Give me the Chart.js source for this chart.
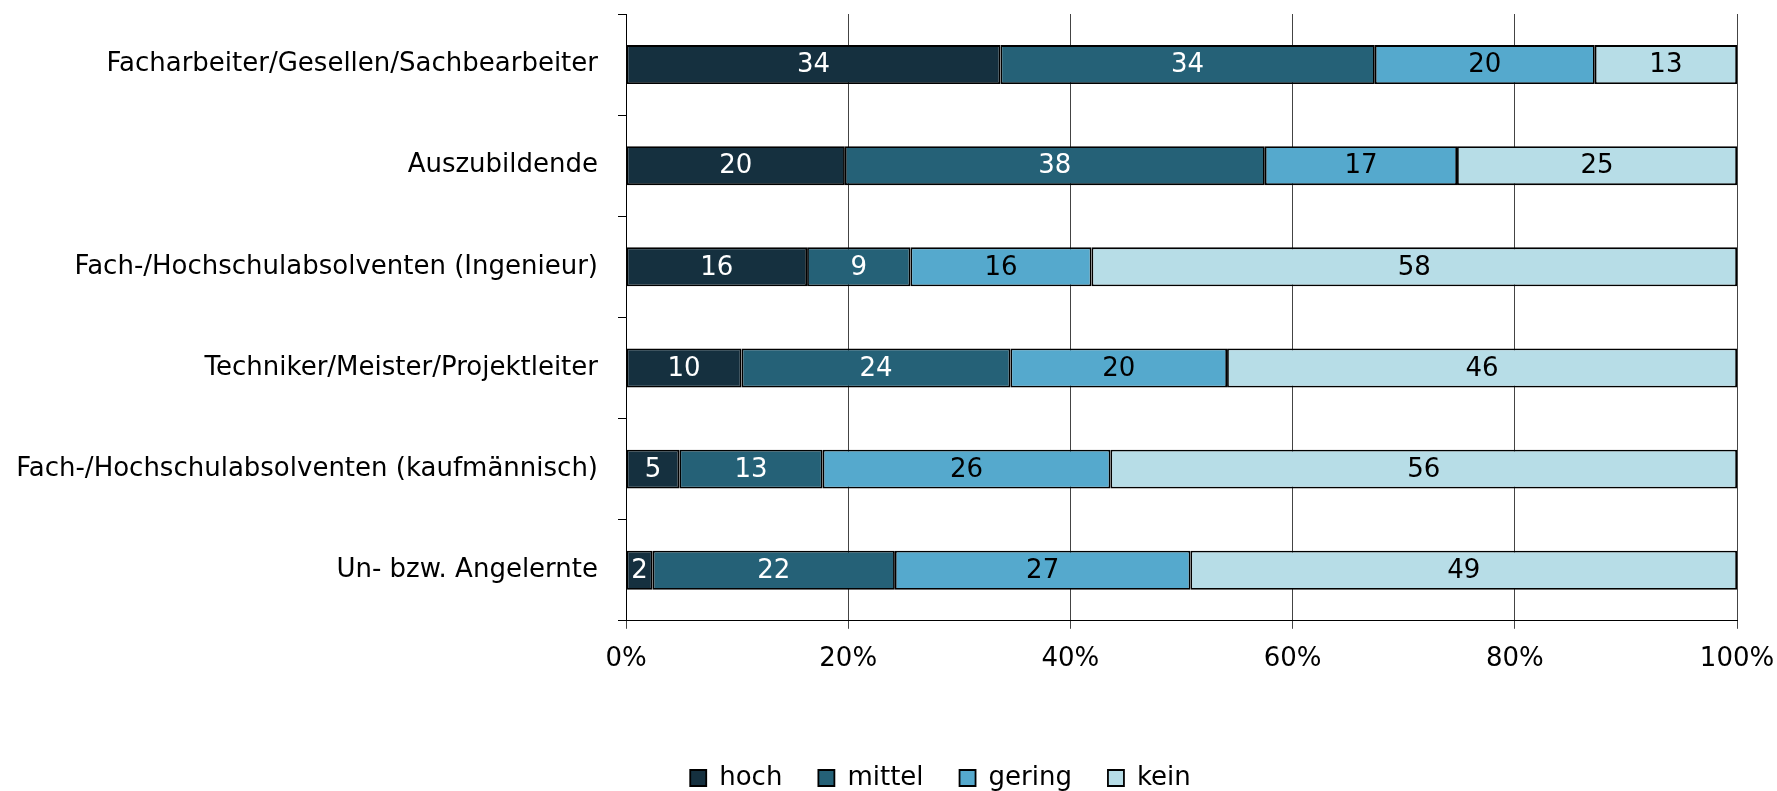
<!DOCTYPE html>
<html>
<head>
<meta charset="utf-8">
<script src="https://cdn.jsdelivr.net/npm/chart.js@4.4.1/dist/chart.umd.min.js"></script>
<style>
  html, body { margin: 0; padding: 0; background: #fff; }
  .box { width: 1777px; height: 791px; position: relative; }
</style>
</head>
<body>
<div class="box"><canvas id="Chart1"></canvas></div>
<script>

let Gruppen = [
    "Facharbeiter/Gesellen/Sachbearbeiter",
    "Auszubildende",
    "Fach-/Hochschulabsolventen (Ingenieur)",
    "Techniker/Meister/Projektleiter",
    "Fach-/Hochschulabsolventen (kaufmännisch)",
    "Un- bzw. Angelernte"
]
let Stufen = ["hoch", "mittel", "gering", "kein"]

// Anteile in % (Beschriftung = gerundet)
let hoch   = [33.7, 19.7, 16.3, 10.4, 4.8, 2.4]
let mittel = [33.7, 37.8, 9.3, 24.2, 12.9, 21.8]
let gering = [19.8, 17.3, 16.3, 19.5, 25.9, 26.6]
let kein   = [12.8, 25.2, 58.1, 45.9, 56.4, 49.2]

let xTicks = [0, 20, 40, 60, 80, 100]

let Farben = ["#15303f", "#256177", "#55a9cd", "#b7dde7"]
let TextFarben = ["#fff", "#fff", "#000", "#000"]

Chart.defaults.font.family = "'DejaVu Sans', sans-serif"
Chart.defaults.font.size = 26
Chart.defaults.color = "#000"

// Werte in die Balken schreiben
const wertePlugin = {
    id: "werte",
    afterDatasetsDraw(chart) {
        const ctx = chart.ctx
        ctx.save()
        ctx.font = "26px 'DejaVu Sans', sans-serif"
        ctx.textAlign = "center"
        ctx.textBaseline = "middle"
        chart.data.datasets.forEach((ds, i) => {
            const meta = chart.getDatasetMeta(i)
            meta.data.forEach((bar, j) => {
                const p = bar.getCenterPoint()
                ctx.fillStyle = TextFarben[i]
                ctx.fillText(Math.round(ds.data[j]), p.x, p.y + 1)
            })
        })
        ctx.restore()
    }
}

// Legende etwas nach rechts/unten schieben wie im Original
const legendeVerschieben = {
    id: "legendeVerschieben",
    afterLayout(chart) {
        const lg = chart.legend
        lg.left += 72; lg.right += 72
        lg.top += 39; lg.bottom += 39
    }
}

let reihen = [hoch, mittel, gering, kein]

new Chart(document.getElementById("Chart1"), {
    type: "bar",
    data: {
        labels: Gruppen,
        datasets: Stufen.map((s, i) => ({
            label: s,
            data: reihen[i],
            backgroundColor: Farben[i],
            borderColor: "#000",
            borderWidth: 1.8,
            borderSkipped: false,
            barPercentage: 0.385,
            categoryPercentage: 1
        }))
    },
    options: {
        indexAxis: "y",
        responsive: true,
        maintainAspectRatio: false,
        animation: false,
        layout: {
            padding: { top: 14, right: 40, bottom: 29, left: 0 }
        },
        scales: {
            x: {
                stacked: true,
                min: 0,
                max: 100,
                afterBuildTicks: (scale) => { scale.ticks = xTicks.map(v => ({ value: v })) },
                afterFit: (scale) => {
                    scale.paddingLeft = 0
                    scale.paddingRight = 0
                },
                ticks: {
                    padding: 15,
                    callback: (v) => v + "%"
                },
                grid: {
                    color: "#444",
                    lineWidth: 1,
                    tickLength: 8
                },
                border: { color: "#000", width: 1 }
            },
            y: {
                stacked: true,
                afterFit: (scale) => {
                    scale.width = 626
                    scale.paddingTop = 0
                    scale.paddingBottom = 0
                },
                ticks: { padding: 20 },
                grid: {
                    drawOnChartArea: false,
                    color: "#000",
                    tickLength: 8,
                    offset: true
                },
                border: { color: "#000", width: 1 }
            }
        },
        plugins: {
            tooltip: { enabled: false },
            legend: {
                display: true,
                position: "bottom",
                labels: {
                    boxWidth: 16,
                    boxHeight: 16,
                    padding: 36,
                    color: "#000",
                    font: { size: 26 }
                }
            }
        }
    },
    plugins: [wertePlugin, legendeVerschieben]
})

</script>
</body>
</html>
